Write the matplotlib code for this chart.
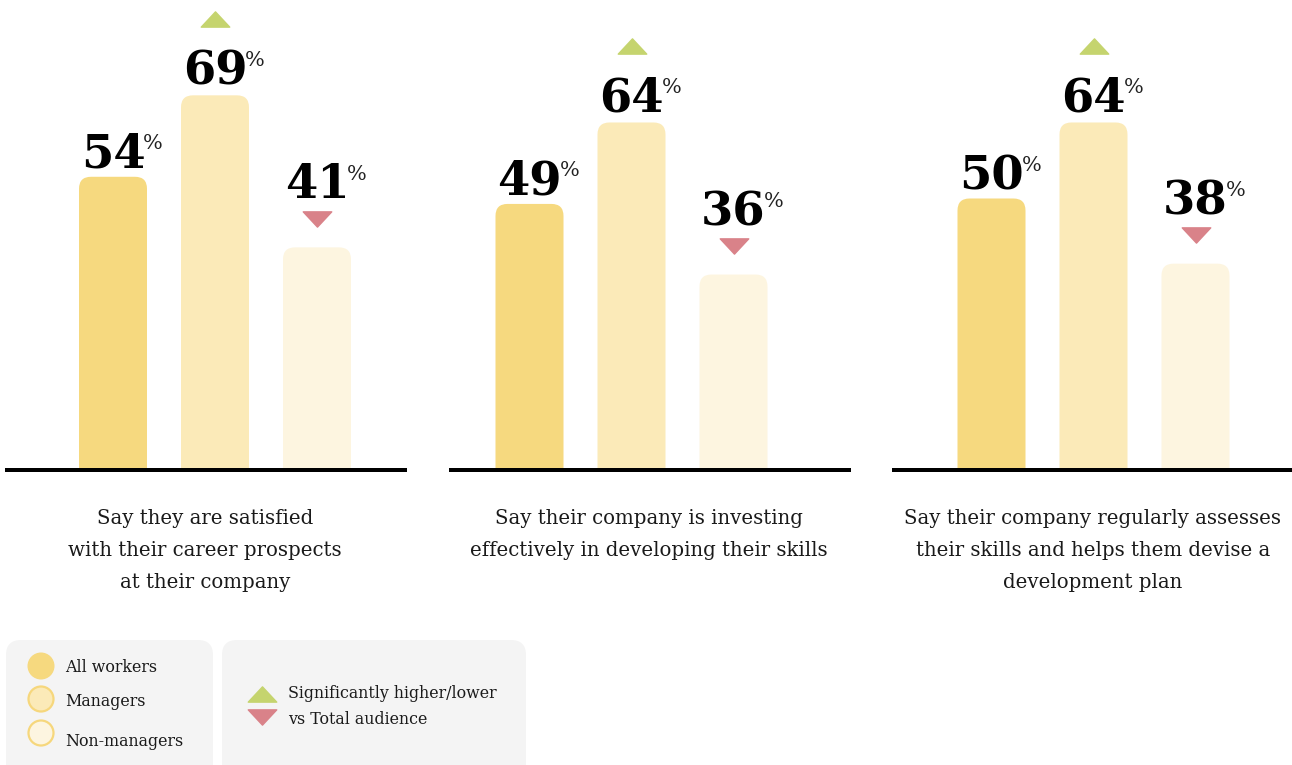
import matplotlib
matplotlib.use("Agg")
import matplotlib.pyplot as plt
from matplotlib.patches import FancyBboxPatch, Circle
from matplotlib.path import Path
from matplotlib import transforms

# ---------------- data ----------------
groups = ["All workers", "Managers", "Non-managers"]
questions = [
    "Say they are satisfied\nwith their career prospects\nat their company",
    "Say their company is investing\neffectively in developing their skills",
    "Say their company regularly assesses\ntheir skills and helps them devise a\ndevelopment plan",
]
all_workers = [54, 49, 50]
managers = [69, 64, 64]
non_managers = [41, 36, 38]
# significance vs total audience: 1 higher, -1 lower, 0 none
sig_managers = [1, 1, 1]
sig_non_managers = [-1, -1, -1]
legend_sig_text = "Significantly higher/lower\nvs Total audience"

# ---------------- style ----------------
W, H, DPI = 1292, 765, 100
bar_colors = ["#F6D97F", "#FBEAB8", "#FDF5E0"]
edge_yellow = "#F6D77C"
green = "#C5D46E"
red = "#D98289"
legend_bg = "#F4F4F4"
num_font = "DejaVu Serif"
txt_font = "DejaVu Serif"

fig = plt.figure(figsize=(W / DPI, H / DPI), dpi=DPI)
fig.patch.set_facecolor("white")

PX_PER_PCT = 5.43
BASE_Y = 470          # baseline pixel (from top)
SPACING = 102.0       # px between bar centres
BAR_W_PX = 68
RADIUS_PX = 12
panels = [(7, 405, 113.0), (451, 849, 529.5), (894, 1292, 991.5)]
text_cx = [205, 649, 1093]

up_tri = Path([(-14, -7.5), (14, -7.5), (0, 7.5), (-14, -7.5)],
              [Path.MOVETO, Path.LINETO, Path.LINETO, Path.CLOSEPOLY])
dn_tri = Path([(-14, 7.5), (14, 7.5), (0, -7.5), (-14, 7.5)],
              [Path.MOVETO, Path.LINETO, Path.LINETO, Path.CLOSEPOLY])

for p, (L, R, c0) in enumerate(panels):
    ax = fig.add_axes([L / W, (H - BASE_Y) / H, (R - L) / W, BASE_Y / H])
    ax.set_xlim((L - c0) / SPACING, (R - c0) / SPACING)
    ax.set_ylim(0, BASE_Y / PX_PER_PCT)
    ax.axis("off")
    vals = [all_workers[p], managers[p], non_managers[p]]
    sigs = [0, sig_managers[p], sig_non_managers[p]]
    bw = BAR_W_PX / SPACING
    r = RADIUS_PX / SPACING
    aspect = SPACING / PX_PER_PCT
    for i, v in enumerate(vals):
        # extends below 0 so the lower rounded corners are clipped away
        ax.add_patch(FancyBboxPatch((i - bw / 2, -10), bw, v + 10,
                                    boxstyle=f"round,pad=0,rounding_size={r}",
                                    mutation_aspect=aspect,
                                    facecolor=bar_colors[i], edgecolor="none"))
        s = sigs[i]
        if s == 1:
            off_num = 11
            tri_off = 76
        elif s == -1:
            off_num = 49
            tri_off = 28.5
        else:
            off_num = 9
            tri_off = None
        t = ax.annotate(f"{v}", xy=(i, v), xytext=(0, off_num),
                        textcoords="offset pixels", ha="center", va="baseline",
                        fontsize=33.5, fontweight="bold", family=num_font,
                        color="black", annotation_clip=False)
        ax.annotate("%", xy=(1.0, 0.95), xycoords=t, xytext=(-2, 0),
                    textcoords="offset pixels", ha="left", va="top",
                    fontsize=15, family=num_font, color="#222222",
                    annotation_clip=False)
        if tri_off is not None:
            tr = transforms.offset_copy(ax.transData, fig=fig, x=0, y=tri_off,
                                        units="dots")
            ax.plot([i], [v], transform=tr, marker=up_tri if s == 1 else dn_tri,
                    markersize=20.5, color=green if s == 1 else red,
                    linestyle="none", clip_on=False)
    ax.axhline(0, color="black", linewidth=4 * 72 / DPI, clip_on=False)

    lines = questions[p].split("\n")
    for k, line in enumerate(lines):
        fig.text(text_cx[p] / W, 1 - (518 + 32 * k) / H, line, ha="center",
                 va="center", fontsize=14.2, family=txt_font, color="#1a1a1a")

# ---------------- legend (pixel coordinates) ----------------
lax = fig.add_axes([0, 0, 1, 1], facecolor="none")
lax.set_xlim(0, W)
lax.set_ylim(H, 0)
lax.axis("off")

for (x0, x1) in [(6, 213), (222, 526)]:
    lax.add_patch(FancyBboxPatch((x0, 640), x1 - x0, 160,
                                 boxstyle="round,pad=0,rounding_size=15",
                                 facecolor=legend_bg, edgecolor="none", zorder=0))

circ_y = [666, 699, 733]
lab_y = [668, 701, 741]
for i, g in enumerate(groups):
    if i == 0:
        c = Circle((41, circ_y[i]), 13.5, facecolor=bar_colors[0],
                   edgecolor="none", zorder=2)
    else:
        c = Circle((41, circ_y[i]), 12.5, facecolor=bar_colors[i],
                   edgecolor=edge_yellow, linewidth=1.6, zorder=2)
    lax.add_patch(c)
    lax.text(65, lab_y[i], g, ha="left", va="center",
             fontsize=11.4, family=txt_font, color="#1a1a1a", zorder=3)

lax.plot([262], [694], marker=up_tri, markersize=20.5, color=green,
         linestyle="none", zorder=3)
lax.plot([262], [717], marker=dn_tri, markersize=20.5, color=red,
         linestyle="none", zorder=3)
for k, line in enumerate(legend_sig_text.split("\n")):
    lax.text(288, 694 + 26 * k, line, ha="left", va="center",
             fontsize=11.4, family=txt_font, color="#1a1a1a", zorder=3)

fig.savefig("out.png", dpi=DPI, facecolor="white")
